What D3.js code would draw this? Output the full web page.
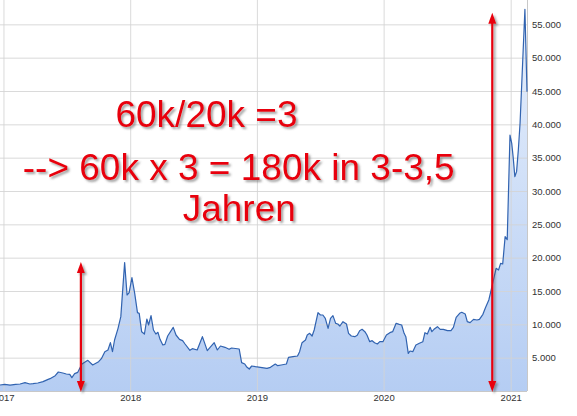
<!DOCTYPE html>
<html>
<head>
<meta charset="utf-8">
<script src="https://cdn.jsdelivr.net/npm/d3@7"></script>
<style>
body { margin: 0; background: #fff; }
svg { display: block; font-family: "Liberation Sans", Arial, sans-serif; }
.axis text { fill: #333; font-size: 9.5px; }
.axis .domain { display: none; }
.grid line { stroke: #d4d4d4; stroke-opacity: 0.85; }
.grid .domain { display: none; }
</style>
</head>
<body>
<svg width="577" height="416"></svg>
<script>
// weekly-ish closes
var dates = [
  "2016-12-22","2017-01-05","2017-01-20","2017-02-05","2017-02-18","2017-03-04","2017-03-18","2017-03-27",
  "2017-04-10","2017-04-25","2017-05-08","2017-05-15","2017-05-30","2017-06-08","2017-06-21","2017-07-01",
  "2017-07-11","2017-07-17","2017-07-25","2017-08-03","2017-08-15","2017-09-01","2017-09-15","2017-10-02",
  "2017-10-10","2017-10-20","2017-10-29","2017-11-05","2017-11-11","2017-11-17","2017-11-27","2017-12-05",
  "2017-12-16","2017-12-23","2017-12-29","2018-01-06","2018-01-14","2018-01-22","2018-01-27","2018-02-03",
  "2018-02-11","2018-02-18","2018-02-23","2018-03-02","2018-03-09","2018-03-16","2018-03-22","2018-03-28",
  "2018-04-05","2018-04-11","2018-04-19","2018-05-05","2018-05-13","2018-05-23","2018-06-01","2018-06-08",
  "2018-06-22","2018-06-29","2018-07-13","2018-07-28","2018-08-11","2018-08-21","2018-08-31","2018-09-09",
  "2018-09-18","2018-10-01","2018-10-13","2018-10-20","2018-11-11","2018-11-18","2018-11-27","2018-12-02",
  "2018-12-10","2018-12-17","2018-12-28","2019-01-11","2019-01-30","2019-02-09","2019-02-23","2019-03-02",
  "2019-03-12","2019-03-27","2019-04-02","2019-04-15","2019-04-28","2019-05-04","2019-05-11","2019-05-21",
  "2019-05-26","2019-06-02","2019-06-09","2019-06-15","2019-06-26","2019-07-03","2019-07-10","2019-07-17",
  "2019-07-25","2019-08-01","2019-08-08","2019-08-16","2019-08-22","2019-08-28","2019-09-06","2019-09-16",
  "2019-09-22","2019-09-30","2019-10-10","2019-10-17","2019-10-24","2019-10-31","2019-11-08","2019-11-14",
  "2019-11-22","2019-11-29","2019-12-06","2019-12-14","2019-12-21","2019-12-30","2020-01-09","2020-01-19",
  "2020-01-27","2020-02-06","2020-02-15","2020-02-22","2020-02-29","2020-03-05","2020-03-12","2020-03-17",
  "2020-03-25","2020-04-03","2020-04-13","2020-04-23","2020-04-29","2020-05-06","2020-05-14","2020-05-19",
  "2020-05-25","2020-06-04","2020-06-12","2020-06-21","2020-07-03","2020-07-13","2020-07-20","2020-07-28",
  "2020-08-07","2020-08-13","2020-08-23","2020-08-29","2020-09-06","2020-09-16","2020-09-26","2020-10-03",
  "2020-10-13","2020-10-20","2020-10-30","2020-11-08","2020-11-20","2020-11-27","2020-12-03","2020-12-09",
  "2020-12-16","2020-12-22","2020-12-30","2021-01-04","2021-01-08","2021-01-13","2021-01-18","2021-01-23",
  "2021-01-28","2021-02-11","2021-02-17"
];
var prices = [
  900,1000,880,1000,1050,1250,1050,1100,
  1200,1400,1700,1850,2300,2850,2700,2550,
  2500,2000,2600,2800,4050,4600,3900,4400,
  4850,5900,6150,7250,5900,7650,9400,11150,
  19250,14400,14750,17000,14650,11750,11650,8900,
  8550,10800,9900,11300,9150,8550,8800,7750,
  6900,7000,8250,9550,8400,7750,7550,7050,
  6100,6350,6150,8150,6050,6650,7250,6150,
  6750,6550,6250,6450,6300,4250,4050,3650,
  3300,3750,3650,3550,3400,3550,4050,3800,
  3900,4050,5050,5150,5250,5900,7250,7650,
  8400,8650,8250,9150,11750,11400,11400,10900,
  9400,10900,11300,10150,10050,9750,10400,10050,
  8650,8250,8150,8350,9050,9250,8900,8400,
  7400,7550,7250,7050,7400,7400,8400,8750,
  8900,10150,10000,9900,8650,8150,5650,6000,
  5900,6900,7150,7400,8750,8550,9550,8900,
  9250,9650,9250,9250,9050,9050,9550,11050,
  11650,11800,11550,10400,10250,10750,10650,10750,
  11500,12450,13650,15650,18400,18150,19150,19050,
  23150,22700,38400,37150,35150,32150,32900,36150,
  40150,57250,44900
];
var yTicks = [5000,10000,15000,20000,25000,30000,35000,40000,45000,50000,55000];
var yearTicks = ["2017-01-01","2018-01-01","2019-01-01","2020-01-01","2021-01-01"];
var yMax = 58650;

// red arrows: date and the value the upper tip points to
var arrowDates = ["2017-08-12","2020-11-09"];
var arrowTops = [19350, 56750];

var noteLines = ["60k/20k =3", "--> 60k x 3 = 180k in 3-3,5", "Jahren"];

var svg = d3.select("svg");
var width = 527;
var height = 391;
var parse = d3.timeParse("%Y-%m-%d");
var de = d3.formatLocale({decimal: ",", thousands: ".", grouping: [3], currency: ["", " €"]});

var data = dates.map(function(d, i) { return {date: parse(d), val: prices[i]}; });

var xScale = d3.scaleTime().domain(d3.extent(data, function(d) { return d.date; })).range([0, width]);
var yScale = d3.scaleLinear().domain([0, yMax]).range([height, 0]);

var defs = svg.append("defs");
var grad = defs.append("linearGradient")
  .attr("id", "fillGrad")
  .attr("x1", 0).attr("y1", 0).attr("x2", 0).attr("y2", 1)
  .attr("gradientUnits", "userSpaceOnUse")
  .attr("y1", 0).attr("y2", height);
grad.append("stop").attr("offset", "0%").attr("stop-color", "#e8f0fc");
grad.append("stop").attr("offset", "100%").attr("stop-color", "#b5cdf3");

var shadow = defs.append("filter").attr("id", "shadow")
  .attr("x", "-20%").attr("y", "-20%").attr("width", "140%").attr("height", "140%");
shadow.append("feDropShadow")
  .attr("dx", 2).attr("dy", 2).attr("stdDeviation", 1.2)
  .attr("flood-color", "#555").attr("flood-opacity", 0.55);

// area
svg.append("path")
  .datum(data)
  .attr("fill", "url(#fillGrad)")
  .attr("d", d3.area()
    .x(function(d) { return xScale(d.date); })
    .y0(height)
    .y1(function(d) { return yScale(d.val); }));

// grid
svg.append("g")
  .attr("class", "grid")
  .call(d3.axisLeft(yScale).tickValues(yTicks).tickSize(-width).tickFormat(""))
  .attr("transform", "translate(0,0)")
  .selectAll("line").attr("x1", 0).attr("x2", width);

svg.append("g")
  .attr("class", "grid")
  .attr("transform", "translate(0," + height + ")")
  .call(d3.axisBottom(xScale).tickValues(yearTicks.map(parse)).tickSize(-height).tickFormat(""));

// frame right & bottom
svg.append("line").attr("x1", width + 0.5).attr("x2", width + 0.5).attr("y1", 0).attr("y2", height)
  .attr("stroke", "#c8c8c8");
svg.append("line").attr("x1", 0).attr("x2", width).attr("y1", height + 0.5).attr("y2", height + 0.5)
  .attr("stroke", "#c8c8c8");

// price line
svg.append("path")
  .datum(data)
  .attr("fill", "none")
  .attr("stroke", "#3163b0")
  .attr("stroke-width", 1.2)
  .attr("stroke-linejoin", "round")
  .attr("d", d3.line()
    .x(function(d) { return xScale(d.date); })
    .y(function(d) { return yScale(d.val); }));

// axes
svg.append("g")
  .attr("class", "axis")
  .attr("transform", "translate(" + width + ",0)")
  .call(d3.axisRight(yScale).tickValues(yTicks).tickSize(0).tickPadding(5).tickFormat(de.format(",")));

svg.append("g")
  .attr("class", "axis")
  .attr("transform", "translate(0," + height + ")")
  .call(d3.axisBottom(xScale).tickValues(yearTicks.map(parse)).tickSize(0).tickPadding(3.5)
    .tickFormat(d3.timeFormat("%Y")));

// arrows
var arrows = svg.append("g").attr("filter", "url(#shadow)");
arrowDates.forEach(function(d, i) {
  var ax = xScale(parse(d));
  var top = yScale(arrowTops[i]);
  var bot = yScale(0) + 1;
  var hl = 11, hw = 4;
  arrows.append("line")
    .attr("x1", ax).attr("x2", ax)
    .attr("y1", top + hl - 1).attr("y2", bot - hl + 1)
    .attr("stroke", "#e8000a").attr("stroke-width", 2.2);
  arrows.append("path")
    .attr("fill", "#e8000a")
    .attr("d", "M" + ax + "," + top + "L" + (ax - hw) + "," + (top + hl) + "L" + (ax + hw) + "," + (top + hl) + "Z");
  arrows.append("path")
    .attr("fill", "#e8000a")
    .attr("d", "M" + ax + "," + bot + "L" + (ax - hw) + "," + (bot - hl) + "L" + (ax + hw) + "," + (bot - hl) + "Z");
});

// note text
var notePos = [[206.5, 127], [238.7, 179.5], [239.3, 220.5]];
svg.append("g")
  .attr("filter", "url(#shadow)")
  .selectAll("text")
  .data(noteLines)
  .enter()
  .append("text")
  .attr("x", function(d, i) { return notePos[i][0]; })
  .attr("y", function(d, i) { return notePos[i][1]; })
  .attr("text-anchor", "middle")
  .attr("fill", "#e8000a")
  .style("font-size", "37px")
  .text(function(d) { return d; });
</script>
</body>
</html>
